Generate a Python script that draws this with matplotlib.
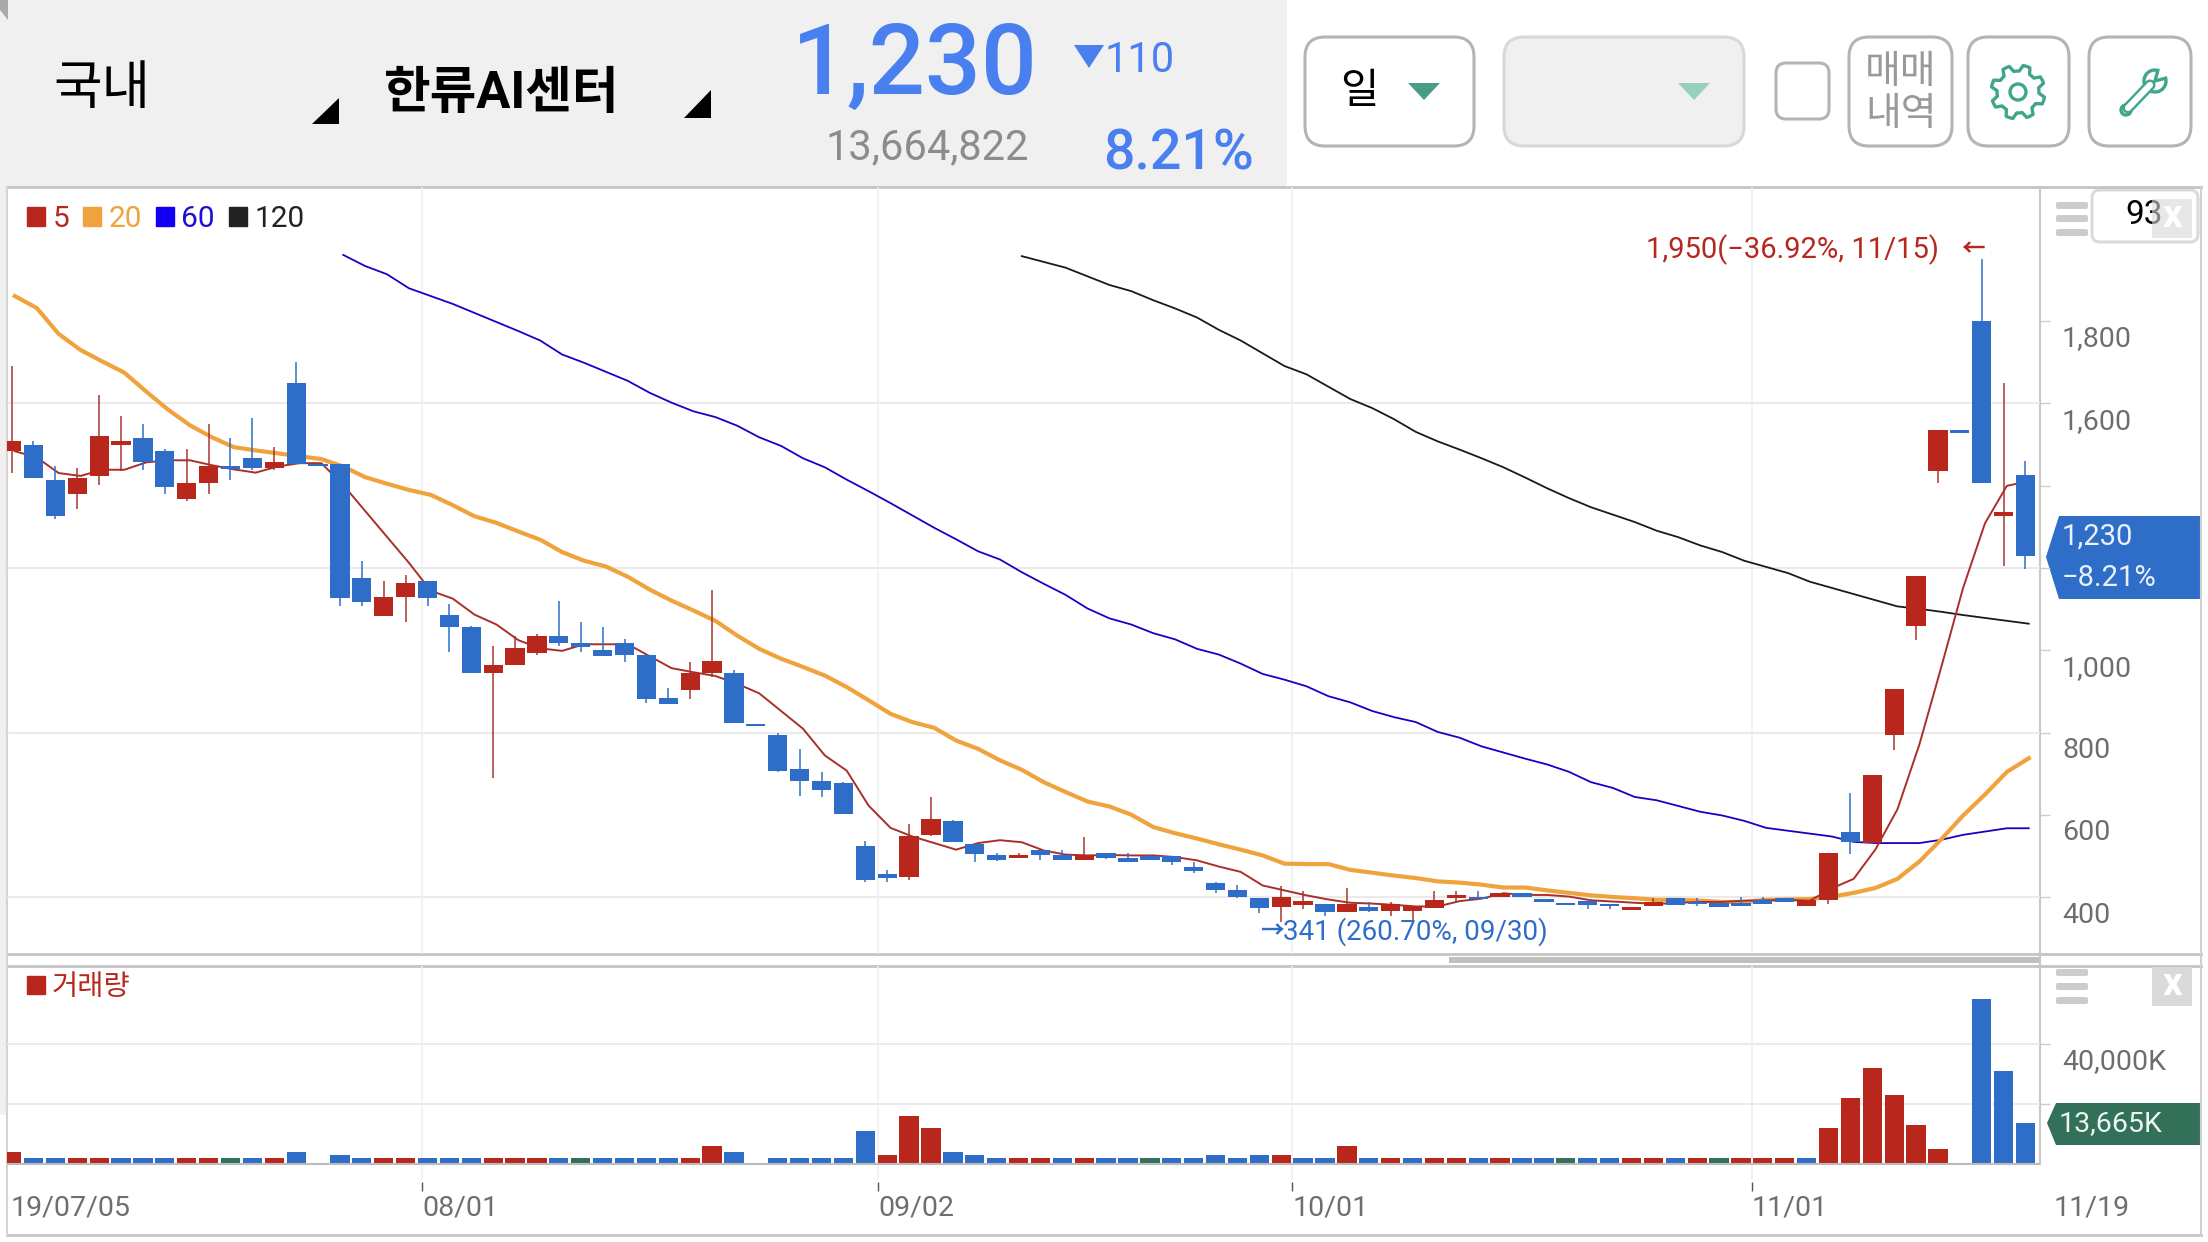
import numpy as np
import matplotlib
matplotlib.use("Agg")
import matplotlib.pyplot as plt
from matplotlib.patches import FancyBboxPatch, Patch, Polygon, Rectangle, Circle, Wedge
from matplotlib.transforms import ScaledTranslation

plt.rcParams["font.family"] = ["Roboto", "Noto Sans CJK KR", "DejaVu Sans"]

# --------------------------------------------------
# Data
# --------------------------------------------------
opens = [1484, 1500, 1415, 1379, 1425, 1500, 1515, 1484, 1369, 1408, 1449, 1468, 1444, 1650, 1454, 1454,
         1177, 1083, 1131, 1168, 1087, 1056, 945, 965, 995, 1036, 1017, 1001, 1017, 990, 884, 904, 945,
         945, 822, 794, 713, 682, 679, 524, 458, 449, 551, 585, 529, 504, 495, 514, 504, 490, 507, 495,
         501, 500, 473, 434, 419, 398, 377, 381, 385, 364, 376, 366, 366, 374, 398, 402, 400, 411, 396,
         387, 392, 384, 369, 378, 399, 390, 387, 387, 394, 398, 379, 393, 558, 533, 795, 1060, 1437,
         1535, 1800, 1326, 1426]
closes = [1510, 1420, 1327, 1420, 1521, 1510, 1459, 1398, 1408, 1449, 1441, 1444, 1459, 1454, 1447, 1127,
          1117, 1131, 1163, 1127, 1056, 945, 965, 1006, 1036, 1017, 1009, 987, 990, 881, 870, 945, 975,
          824, 816, 706, 683, 662, 602, 442, 446, 548, 590, 534, 505, 492, 502, 504, 490, 504, 495, 486,
          492, 486, 464, 418, 402, 374, 402, 392, 364, 385, 366, 385, 380, 394, 407, 396, 410, 400, 388,
          381, 381, 378, 377, 390, 381, 383, 376, 378, 383, 388, 394, 508, 535, 697, 907, 1181, 1535,
          1529, 1406, 1336, 1230]
highs = [1692, 1510, 1448, 1444, 1620, 1569, 1550, 1489, 1489, 1550, 1515, 1564, 1494, 1702, 1454, 1454,
         1217, 1168, 1183, 1168, 1112, 1060, 1011, 1035, 1041, 1121, 1070, 1056, 1027, 990, 909, 972, 1147,
         953, 822, 800, 760, 704, 681, 536, 466, 579, 643, 587, 529, 508, 508, 514, 514, 546, 508, 508,
         504, 500, 486, 437, 431, 398, 428, 415, 385, 424, 389, 389, 380, 415, 416, 415, 410, 411, 396,
         387, 392, 384, 377, 399, 399, 399, 387, 402, 402, 398, 394, 508, 654, 697, 907, 1181, 1535,
         1535, 1950, 1650, 1460]
lows = [1430, 1420, 1319, 1344, 1403, 1435, 1439, 1379, 1364, 1379, 1415, 1439, 1439, 1454, 1447, 1107,
        1107, 1083, 1070, 1107, 997, 945, 691, 965, 988, 1012, 997, 987, 972, 872, 870, 881, 935,
        823, 816, 704, 646, 644, 602, 437, 437, 442, 548, 534, 485, 488, 495, 492, 490, 490, 493, 486,
        490, 478, 459, 410, 398, 361, 341, 373, 355, 364, 364, 355, 344, 374, 389, 396, 400, 400, 388,
        381, 373, 372, 369, 378, 381, 380, 376, 378, 383, 388, 379, 384, 506, 533, 757, 1025, 1406,
        1529, 1406, 1206, 1197]

ma5 = [1484, 1469, 1431, 1424, 1439, 1439, 1457, 1462, 1462, 1450, 1440, 1432, 1447, 1455, 1455, 1402,
       1339, 1276, 1213, 1145, 1126, 1087, 1063, 1025, 1005, 999, 1015, 1015, 1015, 986, 957, 947, 938,
       919, 896, 853, 810, 745, 708, 623, 569, 548, 532, 516, 532, 539, 534, 514, 504, 502, 503, 502,
       502, 498, 490, 475, 462, 429, 417, 405, 395, 387, 385, 382, 378, 378, 391, 397, 410, 406, 406,
       402, 393, 390, 387, 384, 387, 389, 389, 392, 393, 394, 392, 422, 445, 517, 614, 771, 959,
       1152, 1309, 1400, 1411]
ma20 = [1861, 1832, 1769, 1730, 1702, 1675, 1629, 1585, 1547, 1518, 1494, 1486, 1479, 1472, 1465, 1447,
        1421, 1405, 1390, 1378, 1353, 1326, 1310, 1289, 1269, 1239, 1218, 1204, 1179, 1148, 1121, 1097, 1072,
        1036, 1004, 980, 960, 939, 911, 879, 846, 826, 812, 781, 761, 733, 710, 680, 656, 633, 621, 601,
        571, 556, 543, 529, 516, 502, 482, 481, 481, 467, 460, 453, 447, 439, 436, 431, 424, 424, 417,
        411, 405, 401, 398, 394, 394, 392, 389, 389, 394, 395, 396, 402, 411, 423, 445, 487, 541,
        599, 650, 705, 738]
ma60_start = 15
ma60 = [1961, 1934, 1914, 1880, 1861, 1842, 1820, 1798, 1776, 1753, 1719, 1699, 1677, 1655, 1626, 1602, 1581,
        1567, 1546, 1518, 1497, 1467, 1445, 1415, 1387, 1358, 1328, 1298, 1270, 1241, 1221, 1190, 1162, 1135,
        1102, 1078, 1063, 1042, 1027, 1004, 990, 968, 943, 929, 913, 889, 874, 853, 838, 826, 802, 788,
        767, 752, 737, 723, 705, 680, 666, 644, 636, 622, 608, 599, 586, 569, 562, 555, 548, 535,
        532, 532, 532, 540, 552, 560, 568, 568]
ma120_start = 46
ma120 = [1958, 1944, 1930, 1909, 1888, 1873, 1851, 1831, 1809, 1779, 1753, 1722, 1691, 1671, 1641, 1611, 1589,
         1562, 1531, 1508, 1488, 1467, 1445, 1420, 1394, 1370, 1348, 1330, 1312, 1291, 1275, 1255, 1239, 1218,
         1203, 1188, 1167, 1152, 1137, 1122, 1107, 1101, 1094, 1086, 1079, 1072, 1065]

# thousands of shares
volumes = [4000, 2000, 2000, 2000, 2000, 2000, 2000, 2000, 2000, 2000, 2000, 2000, 2000, 4000, 0, 3000,
           2000, 2000, 2000, 2000, 2000, 2000, 2000, 2000, 2000, 2000, 2000, 2000, 2000, 2000, 2000, 2000, 6000,
           4000, 0, 2000, 2000, 2000, 2000, 11000, 3000, 16000, 12000, 4000, 3000, 2000, 2000, 2000, 2000, 2000,
           2000, 2000, 2000, 2000, 2000, 3000, 2000, 3000, 3000, 2000, 2000, 6000, 2000, 2000, 2000, 2000, 2000,
           2000, 2000, 2000, 2000, 2000, 2000, 2000, 2000, 2000, 2000, 2000, 2000, 2000, 2000, 2000, 2000,
           12000, 22000, 32000, 23000, 13000, 5000, 0, 55000, 31000, 13665]
volume_dirs = ("rbbrrbbbrr" "gbrbbbbrrb" "bbrrrbgbbb" "brrbbbbbbb" "rrrbbbrrbr"
               "bbgbbbbbrb" "brbrbrrbrb" "bgbbrrbrgr" "rrbrrrrrrb" "bbb")

date_labels = ["19/07/05", "08/01", "09/02", "10/01", "11/01"]
date_ticks = [-0.07, 18.77, 39.6, 58.5, 79.5]
last_date_label = "11/19"

price_ticks = [400, 600, 800, 1000, 1200, 1400, 1600, 1800]
price_tick_labels = ["400", "600", "800", "1,000", "", "", "1,600", "1,800"]
price_grid = [400, 800, 1200, 1600]
volume_ticks = [20000, 40000]
volume_tick_labels = ["", "40,000K"]

ma_names = ["5", "20", "60", "120"]

RED = "#B9261B"
BLUE = "#2F6EC8"
GREEN = "#33705A"
ORANGE = "#F0A33C"
MA_BLUE = "#1A00C4"
TICK_GREY = "#6E6E6E"
EDGE = "#B4B4B4"
ICON_GREEN = "#3FA58B"

# the average lines sit a little right of the candle centres
MA_SHIFT = 0.15

W, H = 2208, 1242


# --------------------------------------------------
# Helpers
# --------------------------------------------------
def px_axes(fig, left, top, right, bottom):
    ax = fig.add_axes([left / W, 1 - bottom / H, (right - left) / W, (bottom - top) / H])
    ax.set_facecolor("none")
    for spine in ax.spines.values():
        spine.set_visible(False)
    return ax


def label(ax, x, y, text, size, color="black", ha="left", weight="normal"):
    ax.text(x, y, text, fontsize=size, color=color, ha=ha, va="center", weight=weight)


def button(ax, left, top, right, bottom, face="white", edge=EDGE, radius=20):
    ax.add_patch(FancyBboxPatch(
        (left + radius, top + radius),
        right - left - 2 * radius,
        bottom - top - 2 * radius,
        boxstyle=f"round,pad={radius},rounding_size={radius}",
        facecolor=face,
        edgecolor=edge,
        linewidth=2.2
    ))


def hamburger(ax, y_rows):
    for y in y_rows:
        ax.add_patch(FancyBboxPatch(
            (2057, y + 1), 30, 5,
            boxstyle="round,pad=1,rounding_size=2",
            facecolor="#CCCCCC", edgecolor="none"
        ))


def close_box(ax, top, bottom, alpha=0.95):
    ax.add_patch(Rectangle((2152, top), 40, bottom - top, facecolor="#D8D8D8", edgecolor="none", alpha=alpha, zorder=4))
    ax.text(2172, (top + bottom) / 2 - 2, "x", color="white", fontsize=28, weight="bold",
            ha="center", va="center", zorder=5)


# --------------------------------------------------
# Header, buttons, frame
# --------------------------------------------------
def draw_chrome(ax):
    ax.set_xlim(0, W)
    ax.set_ylim(H, 0)
    ax.axis("off")

    ax.add_patch(Rectangle((0, 0), 1287, 187, facecolor="#F0F0F0", edgecolor="none"))
    ax.add_patch(Rectangle((0, 187), 7, 928, facecolor="#F0F0F0", edgecolor="none"))
    ax.add_patch(Polygon([(0, 0), (8, 0), (8, 20), (0, 10)], facecolor="#AAAAAA", edgecolor="none"))

    label(ax, 102, 90, "국내", 38, ha="center")
    label(ax, 384, 94, "한류AI센터", 36.5, weight="bold")
    ax.add_patch(Polygon([(312, 124), (339, 124), (339, 98)], facecolor="black", edgecolor="none"))
    ax.add_patch(Polygon([(684, 118), (711, 118), (711, 90)], facecolor="black", edgecolor="none"))

    label(ax, 915, 67, "1,230", 71, color="#4A7FF0", ha="center", weight="medium")
    ax.add_patch(Polygon([(1074, 45), (1104, 45), (1089, 68)], facecolor="#4A7FF0", edgecolor="none"))
    label(ax, 1105, 61, "110", 30, color="#4A7FF0")
    label(ax, 927, 148, "13,664,822", 30, color="#8C8C8C", ha="center")
    label(ax, 1178, 154, "8.21%", 40, color="#4A7FF0", ha="center", weight="medium")

    # dropdowns and buttons
    button(ax, 1305, 37, 1474, 146)
    label(ax, 1359, 92, "일", 30, ha="center")
    ax.add_patch(Polygon([(1408, 83), (1440, 83), (1424, 100)], facecolor="#4A9C84", edgecolor="none"))

    button(ax, 1504, 37, 1744, 146, face="#F0F0F0", edge="#D8D8D8")
    ax.add_patch(Polygon([(1678, 83), (1710, 83), (1694, 100)], facecolor="#98D0C0", edgecolor="none"))

    button(ax, 1776, 63, 1829, 119, radius=10)
    button(ax, 1849, 37, 1952, 146)
    label(ax, 1901, 72, "매매", 28, color="#999999", ha="center")
    label(ax, 1901, 115, "내역", 28, color="#999999", ha="center")

    # gear icon
    button(ax, 1968, 37, 2069, 146)
    angles = np.linspace(0, 2 * np.pi, 48, endpoint=False) + np.pi / 8 - 0.2
    radii = np.tile([27, 27, 27, 21, 21, 21], 8)
    gear = np.c_[2018 + radii * np.cos(angles), 92 + radii * np.sin(angles)]
    ax.add_patch(Polygon(gear, facecolor="white", edgecolor=ICON_GREEN, linewidth=2.4, joinstyle="round"))
    ax.add_patch(Circle((2018, 92), 8, facecolor="white", edgecolor=ICON_GREEN, linewidth=2.4))

    # wrench icon
    button(ax, 2089, 37, 2191, 146)
    ax.plot([2128, 2150], [108, 85], color=ICON_GREEN, lw=8, solid_capstyle="round")
    ax.add_patch(Wedge((2155, 81), 11, -15, 285, facecolor="white", edgecolor=ICON_GREEN, linewidth=2.4))
    ax.plot([2128, 2150], [108, 85], color="white", lw=4.5, solid_capstyle="round")
    ax.add_patch(Circle((2126, 110), 5, facecolor="white", edgecolor=ICON_GREEN, linewidth=2.4))

    # panel lines
    for y in (187, 954, 966, 1235):
        ax.plot([7, 2201], [y, y], color="#C4C4C4", lw=2)
    ax.plot([7, 7], [187, 1235], color="#D4D4D4", lw=1.5)
    ax.plot([2039.5, 2039.5], [187, 1164], color="#C8C8C8", lw=1.5)
    ax.plot([2201, 2201], [187, 1235], color="#D0D0D0", lw=1.5)
    ax.add_patch(Rectangle((1449, 957), 591, 6, facecolor="#BFBFBF", edgecolor="none"))

    hamburger(ax, [202, 215, 229])
    hamburger(ax, [969, 983, 997])
    button(ax, 2092, 190, 2198, 242, edge="#DADADA", radius=8)
    label(ax, 2144, 215, "93", 24, ha="center")
    close_box(ax, 199, 238, alpha=0.6)
    close_box(ax, 967, 1006)

    # last price tags
    ax.add_patch(Polygon([(2046, 557), (2059, 516), (2200, 516), (2200, 599), (2059, 599)],
                         facecolor=BLUE, edgecolor="none"))
    label(ax, 2062, 537, "1,230", 21, color="#EAF1FB")
    label(ax, 2062, 578, "−8.21%", 21, color="#EAF1FB")
    ax.add_patch(Polygon([(2047, 1123), (2056, 1103), (2200, 1103), (2200, 1145), (2056, 1145)],
                         facecolor=GREEN, edgecolor="none"))
    label(ax, 2059, 1124, "13,665K", 20.5, color="#EDF5F1")


# --------------------------------------------------
# Candles and moving averages
# --------------------------------------------------
def plot_price(ax, anchor):
    x = np.arange(len(opens))
    o, c, hi, lo = map(np.array, (opens, closes, highs, lows))
    colors = [RED if up else BLUE for up in c >= o]
    wick_colors = ["#A8352C" if up else BLUE for up in c >= o]

    ax.set_xlim(-0.21, 92.64)
    ax.set_ylim(262.5, 2126)

    ax.hlines(price_grid, -0.21, 92.64, color="#E8E8E8", lw=1.3, zorder=1)
    ax.vlines(date_ticks[1:], 262.5, 2126, color="#EFEFEF", lw=1.1, zorder=1)

    ax.plot(x[ma120_start:] + MA_SHIFT, ma120, color="#1A1A1A", lw=1.3, zorder=2)
    ax.plot(x[ma60_start:] + MA_SHIFT, ma60, color=MA_BLUE, lw=1.3, zorder=2)
    ax.plot(x + MA_SHIFT, ma20, color=ORANGE, lw=3.0, zorder=2)
    ax.plot(x + MA_SHIFT, ma5, color="#A8302A", lw=1.4, zorder=2.5)

    ax.vlines(x, lo, hi, color=wick_colors, lw=1.1, zorder=3)
    ax.bar(x, np.abs(c - o), bottom=np.minimum(o, c), width=0.88, color=colors, linewidth=0, zorder=3.2)

    ax.set_xticks([])
    ax.yaxis.tick_right()
    ax.set_yticks(price_ticks)
    ax.set_yticklabels(price_tick_labels)
    ax.tick_params(axis="y", length=7.2, width=1, color="#CCCCCC", labelcolor=TICK_GREY, labelsize=20.5, pad=9)
    for tick_label in ax.get_yticklabels():
        tick_label.set_verticalalignment("top")
        tick_label.set_transform(tick_label.get_transform() + ScaledTranslation(0, -3 / 72, ax.figure.dpi_scale_trans))

    ax.annotate("1,950(−36.92%, 11/15)", xy=(90, 1950), xytext=(-31, 7), textcoords="offset points",
                ha="right", va="center", fontsize=21, color="#B5281F", annotation_clip=False)
    ax.annotate("←", xy=(90, 1950), xytext=(2, 7), textcoords="offset points",
                ha="right", va="center", fontsize=17, color="#B5281F", weight="bold", annotation_clip=False)
    ax.annotate("→", xy=(58, 341), xytext=(-15, -7), textcoords="offset points",
                ha="left", va="center", fontsize=17, color=BLUE, weight="bold")
    ax.annotate("341 (260.70%, 09/30)", xy=(58, 341), xytext=(1, -7), textcoords="offset points",
                ha="left", va="center", fontsize=20, color=BLUE)

    handles = [Patch(color=col) for col in (RED, ORANGE, "#1400F0", "#222222")]
    ax.legend(handles, ma_names, loc="upper left", bbox_to_anchor=(27, 205),
              bbox_transform=anchor.transData, ncol=4, frameon=False, fontsize=21.5,
              handlelength=0.6, handleheight=0.58, handletextpad=0.25, columnspacing=0.47,
              borderpad=0, borderaxespad=0, labelcolor=[RED, ORANGE, "#1E10D0", "#222222"])


# --------------------------------------------------
# Volume bars
# --------------------------------------------------
def plot_volume(ax, anchor):
    x = np.arange(len(volumes))
    dir_colors = {"r": RED, "b": BLUE, "g": GREEN}
    colors = [dir_colors[d] for d in volume_dirs]

    ax.set_xlim(-0.21, 92.64)
    ax.set_ylim(-23667, 66000)

    ax.hlines(volume_ticks, -0.21, 92.64, color="#E8E8E8", lw=1.3, zorder=1)
    ax.vlines(date_ticks[1:], -5300, 66000, color="#EFEFEF", lw=1.1, zorder=1)
    ax.vlines(date_ticks[1:], -9000, -6000, color="#555555", lw=1, zorder=1)
    ax.bar(x, volumes, width=0.88, color=colors, linewidth=0, zorder=2)
    ax.hlines(0, -0.21, 92.64, color="#BBBBBB", lw=1.5, zorder=3)

    ax.set_xticks(date_ticks)
    ax.set_xticklabels(date_labels, ha="left")
    ax.tick_params(axis="x", length=0, labelcolor=TICK_GREY, labelsize=20.5, pad=-29)

    ax.yaxis.tick_right()
    ax.set_yticks(volume_ticks)
    ax.set_yticklabels(volume_tick_labels)
    ax.tick_params(axis="y", length=7.2, width=1, color="#CCCCCC", labelcolor=TICK_GREY, labelsize=20.5, pad=9)
    for tick_label in ax.get_yticklabels():
        tick_label.set_verticalalignment("top")
        tick_label.set_transform(tick_label.get_transform() + ScaledTranslation(0, -3 / 72, ax.figure.dpi_scale_trans))

    ax.text(93.3, -14800, last_date_label, fontsize=20.5, color=TICK_GREY, va="center", ha="left", clip_on=False)

    ax.legend([Patch(color=RED)], ["거래량"], loc="upper left", bbox_to_anchor=(27, 974),
              bbox_transform=anchor.transData, frameon=False, fontsize=20.5,
              handlelength=0.62, handleheight=0.62, handletextpad=0.25,
              borderpad=0, borderaxespad=0, labelcolor=[RED])


# --------------------------------------------------
# Main
# --------------------------------------------------
if __name__ == "__main__":
    fig = plt.figure(figsize=(W / 100, H / 100), dpi=100, facecolor="white")

    chrome = fig.add_axes([0, 0, 1, 1], zorder=0)
    draw_chrome(chrome)

    price_ax = px_axes(fig, 7, 187, 2039.5, 954)
    price_ax.set_zorder(1)
    plot_price(price_ax, chrome)

    volume_ax = px_axes(fig, 7, 966, 2039.5, 1235)
    volume_ax.set_zorder(1)
    plot_volume(volume_ax, chrome)

    fig.savefig("out.png", dpi=100)
    plt.close(fig)
